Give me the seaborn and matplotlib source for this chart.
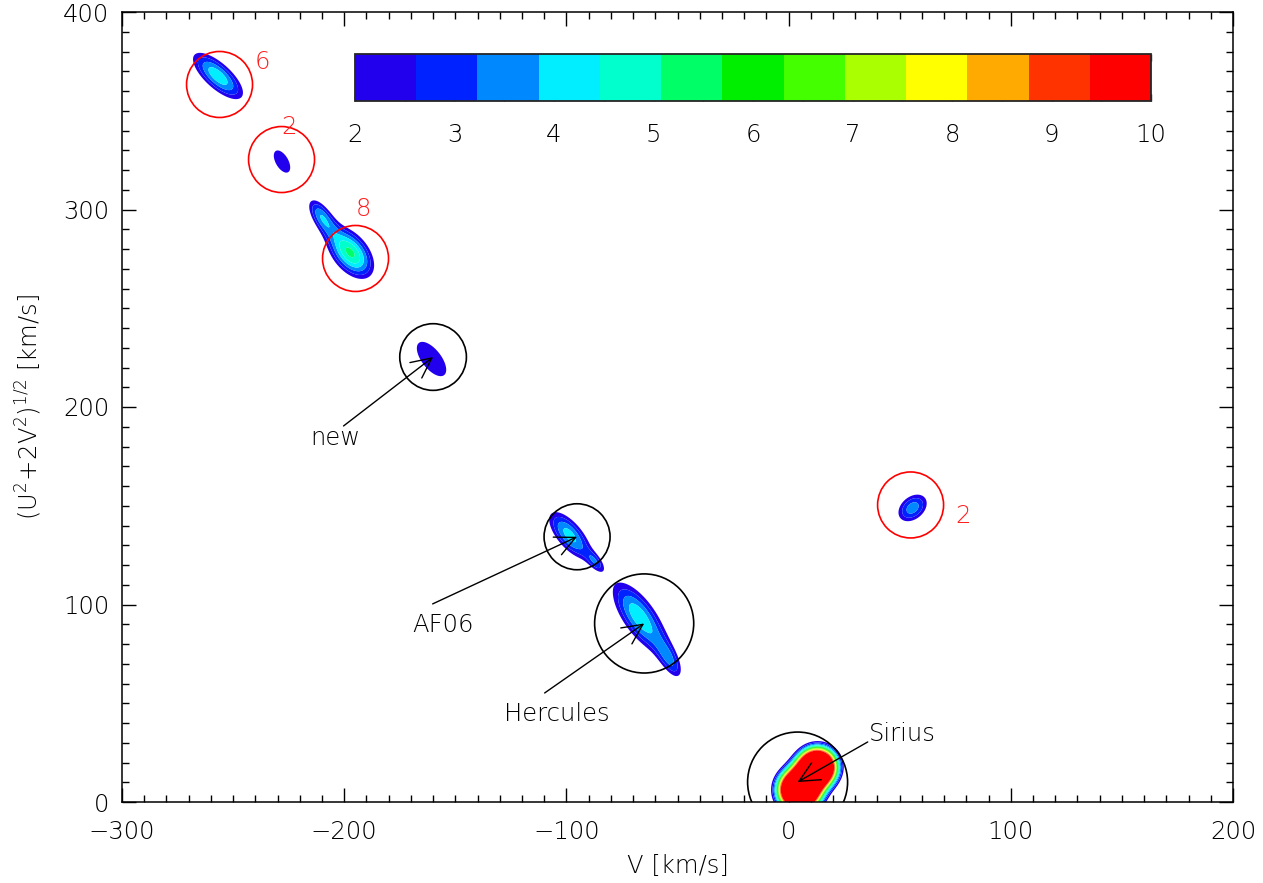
import numpy as np
import matplotlib
matplotlib.use("Agg")
import matplotlib.pyplot as plt
from matplotlib.patches import Ellipse
from matplotlib.ticker import MultipleLocator
import seaborn as sns

sns.set_style("ticks")
plt.rcParams["font.family"] = ["DejaVu Sans"]
plt.rcParams["font.weight"] = "light"
plt.rcParams["axes.labelweight"] = "light"
plt.rcParams["mathtext.fontset"] = "custom"
plt.rcParams["mathtext.rm"] = "DejaVu Sans:light"
plt.rcParams["mathtext.it"] = "DejaVu Sans:light:italic"
plt.rcParams["mathtext.default"] = "rm"

# ---- contour levels and colour bands -------------------------------------
levels = np.linspace(2, 10, 14)
band_colors = ["#2200ee", "#0022ff", "#0088ff", "#00eeff", "#00ffcc",
               "#00ff66", "#00ee00", "#44ff00", "#aaff00", "#ffff00",
               "#ffaa00", "#ff3300", "#ff0000"]
cbar_ticks = [2, 3, 4, 5, 6, 7, 8, 9, 10]

# ---- density field: tilted Gaussian components ----------------------------
# centre (V, Y) in km/s, major/minor widths in km/s, tilt on the page (deg), peak
comp_v = [-256.8, -228.0, -197.1, -210.5, -160.7, -98.6, -86.9, -67.1, -53.0, 55.8, 4.9, 12.6]
comp_y = [367.6, 324.3, 278.0, 297.0, 224.3, 135.2, 121.5, 93.7, 71.0, 148.9, 6.1, 17.2]
comp_a = [11.5, 7.6, 9.8, 7.2, 13.2, 10.5, 4.0, 14.4, 7.6, 6.6, 5.5, 5.4]
comp_b = [4.6, 3.9, 5.8, 3.4, 6.2, 4.6, 2.0, 5.8, 3.2, 4.6, 5.5, 5.2]
comp_t = [-42, -60, -51, -57, -52, -50, -52, -55, -62, 40, 0, 40]
comp_h = [4.3, 2.6, 5.2, 3.4, 2.55, 4.1, 1.9, 4.35, 2.5, 3.6, 30.0, 28.0]

# ---- circled groups -------------------------------------------------------
circ_v = [-256.1, -228.2, -194.9, -160.0, -95.2, -65.0, 4.05, 54.9]
circ_y = [363.3, 325.3, 275.2, 225.3, 134.3, 90.4, 10.1, 150.4]
circ_r = [14.85, 14.85, 14.85, 15.0, 14.85, 22.3, 22.5, 14.85]   # radius, km/s along V
circ_c = ["red", "red", "red", "black", "black", "black", "black", "red"]

# ---- named groups with arrows --------------------------------------------
name_text = ["new", "AF06", "Hercules", "Sirius"]
name_circle = [3, 4, 5, 6]
name_v = [-203.9, -155.7, -104.4, 51.3]
name_y = [184.3, 89.6, 44.6, 34.4]
tail_v = [-200.3, -160.2, -109.8, 35.6]
tail_y = [190.4, 100.3, 55.2, 30.4]

# ---- numbers next to red circles -----------------------------------------
num_text = ["6", "2", "8", "2"]
num_v = [-236.7, -224.6, -191.3, 78.3]
num_y = [374.7, 341.8, 300.3, 144.8]

FS = 17.5

fig = plt.figure(figsize=(12.63, 8.83), dpi=100)
ax = fig.add_axes([122 / 1263, 81 / 883, 1111 / 1263, 790 / 883])
ax.set_xlim(-300, 200)
ax.set_ylim(0, 400)

# pixel scale of each axis so tilts and circles are measured on the page
bbox = ax.get_window_extent()
px_v = bbox.width / 500.0
px_y = bbox.height / 400.0
k = px_y / px_v

V, Y = np.meshgrid(np.linspace(-300, 200, 1201), np.linspace(0, 400, 961))
Z = np.zeros_like(V)
for v0, y0, a, b, t, h in zip(comp_v, comp_y, comp_a, comp_b, comp_t, comp_h):
    th = np.deg2rad(t)
    dx = V - v0
    dy = (Y - y0) * k
    u = dx * np.cos(th) + dy * np.sin(th)
    w = -dx * np.sin(th) + dy * np.cos(th)
    Z += h * np.exp(-0.5 * (u / a) ** 2 - 0.5 * (w / b) ** 2)
Z = np.minimum(Z, 9.999)

cf = ax.contourf(V, Y, Z, levels=levels, colors=band_colors, antialiased=True)

for v, y, r, c in zip(circ_v, circ_y, circ_r, circ_c):
    ax.add_patch(Ellipse((v, y), 2 * r, 2 * r / k, fill=False, ec=c, lw=1.2))

for txt, ci, lv, ly, tv, ty in zip(name_text, name_circle, name_v, name_y, tail_v, tail_y):
    ax.annotate("", xy=(circ_v[ci], circ_y[ci]), xytext=(tv, ty),
                arrowprops=dict(arrowstyle="->,head_length=1.45,head_width=0.7",
                                color="black", lw=1.0, shrinkA=0, shrinkB=0,
                                mutation_scale=10))
    ax.text(lv, ly, txt, fontsize=FS, ha="center", va="center", color="black")

for txt, v, y in zip(num_text, num_v, num_y):
    ax.text(v, y, txt, fontsize=FS, ha="center", va="center", color="#ff2020")

# axes frame and ticks
ax.xaxis.set_major_locator(MultipleLocator(100))
ax.yaxis.set_major_locator(MultipleLocator(100))
ax.xaxis.set_minor_locator(MultipleLocator(10))
ax.yaxis.set_minor_locator(MultipleLocator(10))
ax.tick_params(which="both", direction="in", top=True, right=True, width=1.0,
               color="black", labelcolor="black", labelsize=FS)
ax.tick_params(which="major", length=10)
ax.tick_params(which="minor", length=5)
ax.tick_params(axis="x", pad=13)
ax.tick_params(axis="y", pad=9)
for s in ax.spines.values():
    s.set_linewidth(1.1)
    s.set_color("black")

ax.set_xlabel("V [km/s]", fontsize=FS, color="black")
ax.xaxis.set_label_coords(0.5, -0.066)
ax.set_ylabel(r"$(U^2\!+\!2V^2)^{1/2}$ [km/s]", fontsize=FS, color="black")
ax.yaxis.set_label_coords(-0.07, 0.5)

# colour bar placed inside the panel
cax = fig.add_axes([355 / 1263, (883 - 101) / 883, 796 / 1263, 47 / 883])
cb = fig.colorbar(cf, cax=cax, orientation="horizontal")
half_ticks = np.arange(2, 10.01, 0.5)
cb.set_ticks(half_ticks,
             labels=[f"{t:g}" if t in cbar_ticks else "" for t in half_ticks])
cb.outline.set_linewidth(1.3)
cax.tick_params(which="both", direction="in", top=True, bottom=True, length=5,
                width=1.0, pad=16, labelsize=FS, labelcolor="black")

fig.savefig("out.png", dpi=100)
